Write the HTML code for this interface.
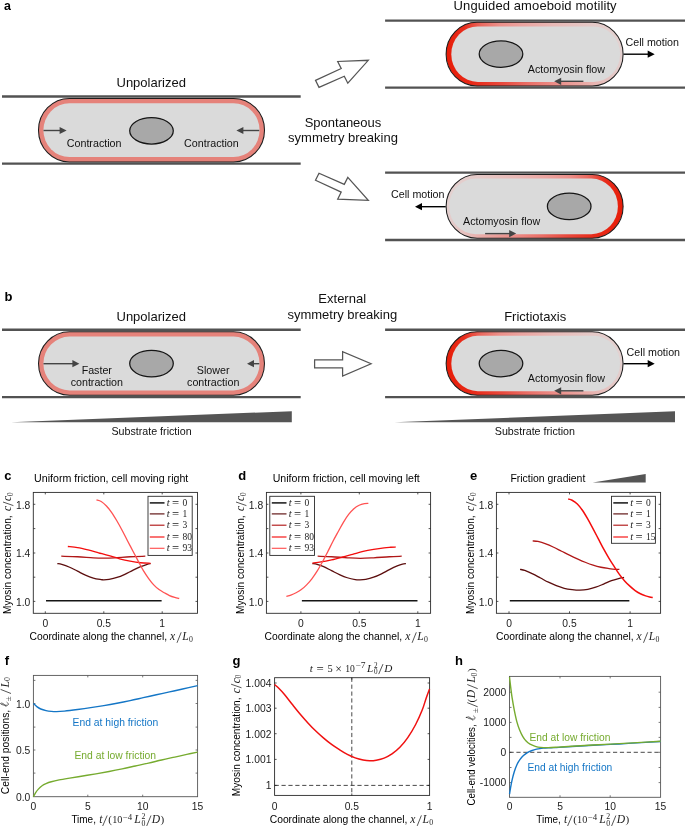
<!DOCTYPE html>
<html><head><meta charset="utf-8"><title>figure</title>
<style>html,body{margin:0;padding:0;background:#fff;}svg{display:block;will-change:transform;}text{font-family:"Liberation Sans", sans-serif;} .m{font-family:"Liberation Serif", serif;font-style:italic;} .r{font-family:"Liberation Serif", serif;}</style></head><body>
<svg width="685" height="827" viewBox="0 0 685 827">
<rect width="685" height="827" fill="#fff"/>
<text x="3.9" y="9.6" font-size="12.4" text-anchor="start" fill="#000" font-weight="bold" >a</text>
<line x1="2" y1="96.5" x2="300.7" y2="96.5" stroke="#525252" stroke-width="2.4"/>
<line x1="2" y1="163.6" x2="300.7" y2="163.6" stroke="#525252" stroke-width="2.4"/>
<path d="M69.5,98.4 H233.5 A31,31.799999999999997 0 0 1 233.5,162.0 H69.5 A31,31.799999999999997 0 0 1 69.5,98.4 Z" fill="#e5827a"/>
<path d="M69.5,103.30000000000001 H233.50000000000003 A26.1,26.89999999999999 0 0 1 233.50000000000003,157.1 H69.5 A26.1,26.89999999999999 0 0 1 69.5,103.30000000000001 Z" fill="#dadada"/>
<path d="M69.5,98.4 H233.5 A31,31.799999999999997 0 0 1 233.5,162.0 H69.5 A31,31.799999999999997 0 0 1 69.5,98.4 Z" fill="none" stroke="#1e1e1e" stroke-width="1.05"/>
<ellipse cx="151.5" cy="130.8" rx="21.8" ry="13.2" fill="#a8a8a8" stroke="#151515" stroke-width="1.25"/>
<line x1="43.5" y1="130.5" x2="60.99999999999999" y2="130.5" stroke="#444" stroke-width="1.4"/>
<polygon points="66.6,130.5 59.599999999999994,126.9 59.599999999999994,134.1" fill="#444"/>
<line x1="259.3" y1="130.5" x2="242.0" y2="130.5" stroke="#444" stroke-width="1.4"/>
<polygon points="236.4,130.5 243.4,126.9 243.4,134.1" fill="#444"/>
<text x="66.8" y="147" font-size="10.7" text-anchor="start" fill="#111" font-weight="normal" >Contraction</text>
<text x="184.1" y="147" font-size="10.7" text-anchor="start" fill="#111" font-weight="normal" >Contraction</text>
<text x="151.2" y="87" font-size="13" text-anchor="middle" fill="#111" font-weight="normal" >Unpolarized</text>
<polygon points="315.5,80.4 341.2,68.5 337.7,61.5 368.3,60.3 347.8,83.2 344.3,76.2 319.0,87.4" fill="#fff" stroke="#555" stroke-width="1.25" stroke-linejoin="miter"/>
<polygon points="315.5,180.2 341.2,192.1 337.7,199.1 368.3,200.3 347.8,177.4 344.3,184.4 319.0,173.2" fill="#fff" stroke="#555" stroke-width="1.25" stroke-linejoin="miter"/>
<text x="343" y="126.9" font-size="13" text-anchor="middle" fill="#111" font-weight="normal" >Spontaneous</text>
<text x="343" y="142.3" font-size="13" text-anchor="middle" fill="#111" font-weight="normal" >symmetry breaking</text>
<line x1="385.1" y1="20.6" x2="686" y2="20.6" stroke="#525252" stroke-width="2.4"/>
<line x1="385.1" y1="87.6" x2="686" y2="87.6" stroke="#525252" stroke-width="2.4"/>
<defs><linearGradient id="gta2" gradientUnits="userSpaceOnUse" x1="446.1" y1="0" x2="623.1" y2="0"><stop offset="0" stop-color="#e71d08"/><stop offset="0.10" stop-color="#e82c1b"/><stop offset="0.20" stop-color="#ea6a60"/><stop offset="0.30" stop-color="#ec8f89"/><stop offset="0.42" stop-color="#eba39f"/><stop offset="0.60" stop-color="#e9b9b6"/><stop offset="0.80" stop-color="#e5c8c6"/><stop offset="1" stop-color="#e3d2d1"/></linearGradient><linearGradient id="gba2" gradientUnits="userSpaceOnUse" x1="446.1" y1="0" x2="623.1" y2="0"><stop offset="0" stop-color="#e71d08"/><stop offset="0.17" stop-color="#e82c1b"/><stop offset="0.32" stop-color="#e84a3e"/><stop offset="0.46" stop-color="#ea6e66"/><stop offset="0.62" stop-color="#eb8e89"/><stop offset="0.78" stop-color="#e9a8a4"/><stop offset="0.90" stop-color="#e6c1bf"/><stop offset="1" stop-color="#e3d0cf"/></linearGradient><clipPath id="cta2"><rect x="444.1" y="20.3" width="181.0" height="33.849999999999994"/></clipPath><clipPath id="cba2"><rect x="444.1" y="54.15" width="181.0" height="33.85"/></clipPath><filter id="bla2" x="-5%" y="-10%" width="110%" height="120%"><feGaussianBlur stdDeviation="0.7"/></filter></defs>
<path d="M477.1,22.3 H592.1 A31,31.85 0 0 1 592.1,86.0 H477.1 A31,31.85 0 0 1 477.1,22.3 Z" fill="url(#gba2)"/>
<path d="M477.1,22.3 H592.1 A31,31.85 0 0 1 592.1,86.0 H477.1 A31,31.85 0 0 1 477.1,22.3 Z" fill="url(#gta2)" clip-path="url(#cta2)"/>
<path d="M477.8,26.4 H593.6 A26.5,27.750000000000004 0 0 1 593.6,81.9 H477.8 A26.5,27.750000000000004 0 0 1 477.8,26.4 Z" fill="#dadada" filter="url(#bla2)"/>
<path d="M477.1,22.3 H592.1 A31,31.85 0 0 1 592.1,86.0 H477.1 A31,31.85 0 0 1 477.1,22.3 Z" fill="none" stroke="#1e1e1e" stroke-width="1.05"/>
<ellipse cx="501" cy="54.1" rx="21.8" ry="13.2" fill="#a8a8a8" stroke="#151515" stroke-width="1.25"/>
<text x="453.6" y="9.8" font-size="13" text-anchor="start" fill="#111" font-weight="normal" textLength="163">Unguided amoeboid motility</text>
<line x1="623.5" y1="54.2" x2="649.1" y2="54.2" stroke="#000" stroke-width="1.4"/>
<polygon points="654.7,54.2 647.7,50.6 647.7,57.800000000000004" fill="#000"/>
<text x="625.5" y="46.3" font-size="10.7" text-anchor="start" fill="#111" font-weight="normal" >Cell motion</text>
<text x="527.8" y="72.9" font-size="10.7" text-anchor="start" fill="#111" font-weight="normal" >Actomyosin flow</text>
<line x1="583.4" y1="81.3" x2="559.8000000000001" y2="81.3" stroke="#444" stroke-width="1.4"/>
<polygon points="554.2,81.3 561.2,77.7 561.2,84.89999999999999" fill="#444"/>
<line x1="385.1" y1="172.6" x2="686" y2="172.6" stroke="#525252" stroke-width="2.4"/>
<line x1="385.1" y1="240.0" x2="686" y2="240.0" stroke="#525252" stroke-width="2.4"/>
<defs><linearGradient id="gta3" gradientUnits="userSpaceOnUse" x1="623.1" y1="0" x2="446.1" y2="0"><stop offset="0" stop-color="#e71d08"/><stop offset="0.10" stop-color="#e82c1b"/><stop offset="0.20" stop-color="#ea6a60"/><stop offset="0.30" stop-color="#ec8f89"/><stop offset="0.42" stop-color="#eba39f"/><stop offset="0.60" stop-color="#e9b9b6"/><stop offset="0.80" stop-color="#e5c8c6"/><stop offset="1" stop-color="#e3d2d1"/></linearGradient><linearGradient id="gba3" gradientUnits="userSpaceOnUse" x1="623.1" y1="0" x2="446.1" y2="0"><stop offset="0" stop-color="#e71d08"/><stop offset="0.17" stop-color="#e82c1b"/><stop offset="0.32" stop-color="#e84a3e"/><stop offset="0.46" stop-color="#ea6e66"/><stop offset="0.62" stop-color="#eb8e89"/><stop offset="0.78" stop-color="#e9a8a4"/><stop offset="0.90" stop-color="#e6c1bf"/><stop offset="1" stop-color="#e3d0cf"/></linearGradient><clipPath id="cta3"><rect x="444.1" y="172.5" width="181.0" height="33.900000000000006"/></clipPath><clipPath id="cba3"><rect x="444.1" y="206.4" width="181.0" height="33.900000000000006"/></clipPath><filter id="bla3" x="-5%" y="-10%" width="110%" height="120%"><feGaussianBlur stdDeviation="0.7"/></filter></defs>
<path d="M477.1,174.5 H592.1 A31,31.900000000000006 0 0 1 592.1,238.3 H477.1 A31,31.900000000000006 0 0 1 477.1,174.5 Z" fill="url(#gba3)"/>
<path d="M477.1,174.5 H592.1 A31,31.900000000000006 0 0 1 592.1,238.3 H477.1 A31,31.900000000000006 0 0 1 477.1,174.5 Z" fill="url(#gta3)" clip-path="url(#cta3)"/>
<path d="M475.6,178.6 H591.4 A26.5,27.80000000000001 0 0 1 591.4,234.20000000000002 H475.6 A26.5,27.80000000000001 0 0 1 475.6,178.6 Z" fill="#dadada" filter="url(#bla3)"/>
<path d="M477.1,174.5 H592.1 A31,31.900000000000006 0 0 1 592.1,238.3 H477.1 A31,31.900000000000006 0 0 1 477.1,174.5 Z" fill="none" stroke="#1e1e1e" stroke-width="1.05"/>
<ellipse cx="569.2" cy="206.4" rx="21.8" ry="13.2" fill="#a8a8a8" stroke="#151515" stroke-width="1.25"/>
<line x1="445.7" y1="206.7" x2="420.6" y2="206.7" stroke="#000" stroke-width="1.4"/>
<polygon points="415,206.7 422,203.1 422,210.29999999999998" fill="#000"/>
<text x="391" y="198.1" font-size="10.7" text-anchor="start" fill="#111" font-weight="normal" >Cell motion</text>
<text x="463" y="225.4" font-size="10.7" text-anchor="start" fill="#111" font-weight="normal" >Actomyosin flow</text>
<line x1="485.1" y1="233.6" x2="510.6" y2="233.6" stroke="#444" stroke-width="1.4"/>
<polygon points="516.2,233.6 509.20000000000005,230.0 509.20000000000005,237.2" fill="#444"/>
<text x="4.5" y="301.4" font-size="13" text-anchor="start" fill="#000" font-weight="bold" >b</text>
<line x1="2" y1="329.8" x2="300.7" y2="329.8" stroke="#525252" stroke-width="2.4"/>
<line x1="2" y1="397.1" x2="300.7" y2="397.1" stroke="#525252" stroke-width="2.4"/>
<path d="M69.5,331.7 H233.5 A31,31.80000000000001 0 0 1 233.5,395.3 H69.5 A31,31.80000000000001 0 0 1 69.5,331.7 Z" fill="#e5827a"/>
<path d="M69.5,336.59999999999997 H233.50000000000003 A26.1,26.900000000000034 0 0 1 233.50000000000003,390.40000000000003 H69.5 A26.1,26.900000000000034 0 0 1 69.5,336.59999999999997 Z" fill="#dadada"/>
<path d="M69.5,331.7 H233.5 A31,31.80000000000001 0 0 1 233.5,395.3 H69.5 A31,31.80000000000001 0 0 1 69.5,331.7 Z" fill="none" stroke="#1e1e1e" stroke-width="1.05"/>
<ellipse cx="151.5" cy="363.6" rx="21.8" ry="13.2" fill="#a8a8a8" stroke="#151515" stroke-width="1.25"/>
<text x="151.2" y="320.5" font-size="13" text-anchor="middle" fill="#111" font-weight="normal" >Unpolarized</text>
<line x1="43.5" y1="363.7" x2="73.80000000000001" y2="363.7" stroke="#444" stroke-width="1.4"/>
<polygon points="79.4,363.7 72.4,360.09999999999997 72.4,367.3" fill="#444"/>
<line x1="259.3" y1="363.7" x2="252.6" y2="363.7" stroke="#444" stroke-width="1.4"/>
<polygon points="247,363.7 254,360.09999999999997 254,367.3" fill="#444"/>
<text x="96.8" y="373.8" font-size="10.7" text-anchor="middle" fill="#111" font-weight="normal" >Faster</text>
<text x="96.8" y="386.2" font-size="10.7" text-anchor="middle" fill="#111" font-weight="normal" >contraction</text>
<text x="213.2" y="373.8" font-size="10.7" text-anchor="middle" fill="#111" font-weight="normal" >Slower</text>
<text x="213.2" y="386.2" font-size="10.7" text-anchor="middle" fill="#111" font-weight="normal" >contraction</text>
<polygon points="11,422.2 291.8,411.2 291.8,422.2" fill="#555"/>
<text x="151.5" y="434.5" font-size="10.7" text-anchor="middle" fill="#111" font-weight="normal" >Substrate friction</text>
<text x="342.2" y="303.2" font-size="13" text-anchor="middle" fill="#111" font-weight="normal" >External</text>
<text x="342.3" y="318.9" font-size="13" text-anchor="middle" fill="#111" font-weight="normal" >symmetry breaking</text>
<polygon points="314.6,359.8 342.6,359.8 342.6,351.6 371.1,363.8 342.6,376.1 342.6,367.9 314.6,367.9" fill="#fff" stroke="#555" stroke-width="1.25" stroke-linejoin="miter"/>
<line x1="385.1" y1="329.8" x2="686" y2="329.8" stroke="#525252" stroke-width="2.4"/>
<line x1="385.1" y1="397.1" x2="686" y2="397.1" stroke="#525252" stroke-width="2.4"/>
<defs><linearGradient id="gtb2" gradientUnits="userSpaceOnUse" x1="446.1" y1="0" x2="623.1" y2="0"><stop offset="0" stop-color="#e71d08"/><stop offset="0.10" stop-color="#e82c1b"/><stop offset="0.20" stop-color="#ea6a60"/><stop offset="0.30" stop-color="#ec8f89"/><stop offset="0.42" stop-color="#eba39f"/><stop offset="0.60" stop-color="#e9b9b6"/><stop offset="0.80" stop-color="#e5c8c6"/><stop offset="1" stop-color="#e3d2d1"/></linearGradient><linearGradient id="gbb2" gradientUnits="userSpaceOnUse" x1="446.1" y1="0" x2="623.1" y2="0"><stop offset="0" stop-color="#e71d08"/><stop offset="0.17" stop-color="#e82c1b"/><stop offset="0.32" stop-color="#e84a3e"/><stop offset="0.46" stop-color="#ea6e66"/><stop offset="0.62" stop-color="#eb8e89"/><stop offset="0.78" stop-color="#e9a8a4"/><stop offset="0.90" stop-color="#e6c1bf"/><stop offset="1" stop-color="#e3d0cf"/></linearGradient><clipPath id="ctb2"><rect x="444.1" y="329.7" width="181.0" height="33.80000000000001"/></clipPath><clipPath id="cbb2"><rect x="444.1" y="363.5" width="181.0" height="33.80000000000001"/></clipPath><filter id="blb2" x="-5%" y="-10%" width="110%" height="120%"><feGaussianBlur stdDeviation="0.7"/></filter></defs>
<path d="M477.1,331.7 H592.1 A31,31.80000000000001 0 0 1 592.1,395.3 H477.1 A31,31.80000000000001 0 0 1 477.1,331.7 Z" fill="url(#gbb2)"/>
<path d="M477.1,331.7 H592.1 A31,31.80000000000001 0 0 1 592.1,395.3 H477.1 A31,31.80000000000001 0 0 1 477.1,331.7 Z" fill="url(#gtb2)" clip-path="url(#ctb2)"/>
<path d="M477.8,335.8 H593.6 A26.5,27.69999999999999 0 0 1 593.6,391.2 H477.8 A26.5,27.69999999999999 0 0 1 477.8,335.8 Z" fill="#dadada" filter="url(#blb2)"/>
<path d="M477.1,331.7 H592.1 A31,31.80000000000001 0 0 1 592.1,395.3 H477.1 A31,31.80000000000001 0 0 1 477.1,331.7 Z" fill="none" stroke="#1e1e1e" stroke-width="1.05"/>
<ellipse cx="501" cy="363.6" rx="21.8" ry="13.2" fill="#a8a8a8" stroke="#151515" stroke-width="1.25"/>
<text x="535.2" y="320.5" font-size="13" text-anchor="middle" fill="#111" font-weight="normal" >Frictiotaxis</text>
<line x1="623.5" y1="363.7" x2="649.1" y2="363.7" stroke="#000" stroke-width="1.4"/>
<polygon points="654.7,363.7 647.7,360.09999999999997 647.7,367.3" fill="#000"/>
<text x="626.6" y="355.6" font-size="10.7" text-anchor="start" fill="#111" font-weight="normal" >Cell motion</text>
<text x="527.8" y="382.4" font-size="10.7" text-anchor="start" fill="#111" font-weight="normal" >Actomyosin flow</text>
<line x1="583.4" y1="390.8" x2="559.8000000000001" y2="390.8" stroke="#444" stroke-width="1.4"/>
<polygon points="554.2,390.8 561.2,387.2 561.2,394.40000000000003" fill="#444"/>
<polygon points="394.5,422.2 675,411.2 675,422.2" fill="#555"/>
<text x="534.9" y="434.5" font-size="10.7" text-anchor="middle" fill="#111" font-weight="normal" >Substrate friction</text>
<rect x="33.3" y="492.4" width="164.2" height="120.89999999999998" fill="none" stroke="#2a2a2a" stroke-width="0.9"/>
<path d="M45.3,613.3 v-2.0 M45.3,492.4 v2.0 M103.8,613.3 v-2.0 M103.8,492.4 v2.0 M162.2,613.3 v-2.0 M162.2,492.4 v2.0 M33.3,504.3 h2.0 M197.5,504.3 h-2.0 M33.3,528.6 h2.0 M197.5,528.6 h-2.0 M33.3,553.0 h2.0 M197.5,553.0 h-2.0 M33.3,577.2 h2.0 M197.5,577.2 h-2.0 M33.3,601.4 h2.0 M197.5,601.4 h-2.0" stroke="#2a2a2a" stroke-width="0.8" fill="none"/>
<text x="4.2" y="480.1" font-size="13" text-anchor="start" fill="#000" font-weight="bold" >c</text>
<text x="34.1" y="481.8" font-size="10.7" text-anchor="start" fill="#000" font-weight="normal" textLength="154.2" lengthAdjust="spacingAndGlyphs">Uniform friction, cell moving right</text>
<text x="30.3" y="508.6" font-size="10.3" text-anchor="end" fill="#1a1a1a" font-weight="normal" >1.8</text>
<text x="30.3" y="557.3" font-size="10.3" text-anchor="end" fill="#1a1a1a" font-weight="normal" >1.4</text>
<text x="30.3" y="605.6999999999999" font-size="10.3" text-anchor="end" fill="#1a1a1a" font-weight="normal" >1.0</text>
<text x="45.3" y="626.9" font-size="10.3" text-anchor="middle" fill="#1a1a1a" font-weight="normal" >0</text>
<text x="103.8" y="626.9" font-size="10.3" text-anchor="middle" fill="#1a1a1a" font-weight="normal" >0.5</text>
<text x="162.2" y="626.9" font-size="10.3" text-anchor="middle" fill="#1a1a1a" font-weight="normal" >1</text>
<g transform="translate(11.4,614.0) rotate(-90)">
<text x="0" y="0" font-size="10.3" fill="#000" textLength="98.7" lengthAdjust="spacingAndGlyphs">Myosin concentration,</text>
<text x="103.0" y="0" font-size="11.6" fill="#1c1c1c" class="m">c</text>
<line x1="108.4" y1="2.0" x2="112.0" y2="-8.4" stroke="#1c1c1c" stroke-width="0.75"/>
<text x="113.0" y="0" font-size="11.6" fill="#1c1c1c" class="m">c</text>
<text x="117.8" y="1.4" font-size="7.8" fill="#1c1c1c" class="r">0</text>
</g>
<g transform="translate(29.5,640.1)">
<text x="0" y="0" font-size="10.2" fill="#000" textLength="137.6" lengthAdjust="spacingAndGlyphs">Coordinate along the channel,</text>
<text x="140.6" y="0" font-size="11.6" fill="#1c1c1c" class="m">x</text>
<line x1="147.5" y1="2.7" x2="151.7" y2="-7.8" stroke="#1c1c1c" stroke-width="0.75"/>
<text x="152.7" y="0" font-size="11.6" fill="#1c1c1c" class="m">L</text>
<text x="159.5" y="1.6" font-size="7.8" fill="#1c1c1c" class="r">0</text>
</g>
<path d="M46.02,600.87 C65.29,600.87 142.36,600.87 161.63,600.87" fill="none" stroke="#151515" stroke-width="1.5" stroke-linecap="butt" stroke-linejoin="round" />
<path d="M57.32,563.56 C58.06,563.69 59.73,563.74 61.78,564.35 C63.84,564.96 67.04,566.10 69.67,567.24 C72.29,568.38 74.92,569.87 77.55,571.18 C80.18,572.49 82.80,573.98 85.43,575.12 C88.06,576.26 90.69,577.27 93.31,578.01 C95.94,578.76 99.44,579.28 101.20,579.59 C102.95,579.89 102.51,579.89 103.82,579.85 C105.14,579.81 106.89,579.72 109.08,579.32 C111.27,578.93 114.33,578.32 116.96,577.49 C119.59,576.65 122.21,575.51 124.84,574.33 C127.47,573.15 130.10,571.66 132.72,570.39 C135.35,569.12 138.20,567.72 140.61,566.71 C143.02,565.71 145.51,564.87 147.18,564.35 C148.84,563.82 150.02,563.69 150.59,563.56" fill="none" stroke="#5c0e0e" stroke-width="1.3" stroke-linecap="butt" stroke-linejoin="round" />
<path d="M61.26,556.20 C63.97,556.29 72.21,556.47 77.55,556.73 C82.89,556.99 88.93,557.56 93.31,557.78 C97.69,558.00 100.32,558.04 103.82,558.04 C107.33,558.04 109.95,558.00 114.33,557.78 C118.71,557.56 124.93,556.99 130.10,556.73 C135.26,556.47 142.80,556.29 145.34,556.20" fill="none" stroke="#b01818" stroke-width="1.3" stroke-linecap="butt" stroke-linejoin="round" />
<path d="M67.83,546.48 C69.45,546.66 74.18,546.96 77.55,547.53 C80.92,548.10 84.56,549.02 88.06,549.90 C91.56,550.77 95.06,551.82 98.57,552.79 C102.07,553.75 105.57,554.67 109.08,555.68 C112.58,556.69 116.08,557.91 119.59,558.83 C123.09,559.75 126.59,560.54 130.10,561.20 C133.60,561.85 137.19,562.42 140.61,562.77 C144.02,563.12 148.93,563.21 150.59,563.30" fill="none" stroke="#f40d0d" stroke-width="1.3" stroke-linecap="butt" stroke-linejoin="round" />
<path d="M96.47,499.98 C97.25,500.24 99.53,500.55 101.20,501.55 C102.86,502.56 104.70,504.18 106.45,506.02 C108.20,507.86 109.95,510.09 111.71,512.59 C113.46,515.08 115.21,518.02 116.96,521.00 C118.71,523.97 120.46,527.17 122.21,530.45 C123.97,533.74 125.72,537.33 127.47,540.70 C129.22,544.07 130.97,547.36 132.72,550.69 C134.48,554.01 136.23,557.39 137.98,560.67 C139.73,563.95 141.48,567.46 143.23,570.39 C144.99,573.33 146.74,575.87 148.49,578.27 C150.24,580.68 151.99,582.96 153.74,584.84 C155.50,586.73 157.25,588.26 159.00,589.57 C160.75,590.89 162.50,591.72 164.25,592.72 C166.01,593.73 167.76,594.83 169.51,595.61 C171.26,596.40 173.14,596.97 174.76,597.45 C176.38,597.94 178.49,598.33 179.23,598.50" fill="none" stroke="#ff5252" stroke-width="1.3" stroke-linecap="butt" stroke-linejoin="round" />
<rect x="148.0" y="496.3" width="44.19999999999999" height="59.099999999999966" fill="#fff" stroke="#2a2a2a" stroke-width="0.9"/>
<line x1="149.8" y1="502.9" x2="164.5" y2="502.9" stroke="#151515" stroke-width="1.5"/>
<text y="505.79999999999995" fill="#1c1c1c"><tspan x="166.8" class="m" font-size="10.6">t</tspan><tspan x="172.10000000000002" y="506.49999999999994" class="r" font-size="12.6">=</tspan><tspan x="182.5" y="505.79999999999995" class="r" font-size="9.5">0</tspan></text>
<line x1="149.8" y1="513.9" x2="164.5" y2="513.9" stroke="#5c0e0e" stroke-width="1.15"/>
<text y="516.8" fill="#1c1c1c"><tspan x="166.8" class="m" font-size="10.6">t</tspan><tspan x="172.10000000000002" y="517.5" class="r" font-size="12.6">=</tspan><tspan x="182.5" y="516.8" class="r" font-size="9.5">1</tspan></text>
<line x1="149.8" y1="525.2" x2="164.5" y2="525.2" stroke="#b01818" stroke-width="1.15"/>
<text y="528.1" fill="#1c1c1c"><tspan x="166.8" class="m" font-size="10.6">t</tspan><tspan x="172.10000000000002" y="528.8000000000001" class="r" font-size="12.6">=</tspan><tspan x="182.5" y="528.1" class="r" font-size="9.5">3</tspan></text>
<line x1="149.8" y1="537.0" x2="164.5" y2="537.0" stroke="#f40d0d" stroke-width="1.15"/>
<text y="539.9" fill="#1c1c1c"><tspan x="166.8" class="m" font-size="10.6">t</tspan><tspan x="172.10000000000002" y="540.6" class="r" font-size="12.6">=</tspan><tspan x="182.5" y="539.9" class="r" font-size="9.5">80</tspan></text>
<line x1="149.8" y1="548.3" x2="164.5" y2="548.3" stroke="#ff5252" stroke-width="1.15"/>
<text y="551.1999999999999" fill="#1c1c1c"><tspan x="166.8" class="m" font-size="10.6">t</tspan><tspan x="172.10000000000002" y="551.9" class="r" font-size="12.6">=</tspan><tspan x="182.5" y="551.1999999999999" class="r" font-size="9.5">93</tspan></text>
<rect x="266.4" y="492.4" width="164.20000000000005" height="120.89999999999998" fill="none" stroke="#2a2a2a" stroke-width="0.9"/>
<path d="M300.9,613.3 v-2.0 M300.9,492.4 v2.0 M359.3,613.3 v-2.0 M359.3,492.4 v2.0 M417.8,613.3 v-2.0 M417.8,492.4 v2.0 M266.4,504.3 h2.0 M430.6,504.3 h-2.0 M266.4,528.6 h2.0 M430.6,528.6 h-2.0 M266.4,553.0 h2.0 M430.6,553.0 h-2.0 M266.4,577.2 h2.0 M430.6,577.2 h-2.0 M266.4,601.4 h2.0 M430.6,601.4 h-2.0" stroke="#2a2a2a" stroke-width="0.8" fill="none"/>
<text x="238.2" y="479.8" font-size="13" text-anchor="start" fill="#000" font-weight="bold" >d</text>
<text x="272.7" y="481.8" font-size="10.7" text-anchor="start" fill="#000" font-weight="normal" textLength="147.1" lengthAdjust="spacingAndGlyphs">Uniform friction, cell moving left</text>
<text x="263.2" y="508.6" font-size="10.3" text-anchor="end" fill="#1a1a1a" font-weight="normal" >1.8</text>
<text x="263.2" y="557.3" font-size="10.3" text-anchor="end" fill="#1a1a1a" font-weight="normal" >1.4</text>
<text x="263.2" y="605.6999999999999" font-size="10.3" text-anchor="end" fill="#1a1a1a" font-weight="normal" >1.0</text>
<text x="300.9" y="626.9" font-size="10.3" text-anchor="middle" fill="#1a1a1a" font-weight="normal" >0</text>
<text x="359.3" y="626.9" font-size="10.3" text-anchor="middle" fill="#1a1a1a" font-weight="normal" >0.5</text>
<text x="417.8" y="626.9" font-size="10.3" text-anchor="middle" fill="#1a1a1a" font-weight="normal" >1</text>
<g transform="translate(244.4,614.0) rotate(-90)">
<text x="0" y="0" font-size="10.3" fill="#000" textLength="98.7" lengthAdjust="spacingAndGlyphs">Myosin concentration,</text>
<text x="103.0" y="0" font-size="11.6" fill="#1c1c1c" class="m">c</text>
<line x1="108.4" y1="2.0" x2="112.0" y2="-8.4" stroke="#1c1c1c" stroke-width="0.75"/>
<text x="113.0" y="0" font-size="11.6" fill="#1c1c1c" class="m">c</text>
<text x="117.8" y="1.4" font-size="7.8" fill="#1c1c1c" class="r">0</text>
</g>
<g transform="translate(264.6,640.1)">
<text x="0" y="0" font-size="10.2" fill="#000" textLength="137.6" lengthAdjust="spacingAndGlyphs">Coordinate along the channel,</text>
<text x="140.6" y="0" font-size="11.6" fill="#1c1c1c" class="m">x</text>
<line x1="147.5" y1="2.7" x2="151.7" y2="-7.8" stroke="#1c1c1c" stroke-width="0.75"/>
<text x="152.7" y="0" font-size="11.6" fill="#1c1c1c" class="m">L</text>
<text x="159.5" y="1.6" font-size="7.8" fill="#1c1c1c" class="r">0</text>
</g>
<path d="M301.88,600.87 C321.15,600.87 398.22,600.87 417.49,600.87" fill="none" stroke="#151515" stroke-width="1.5" stroke-linecap="butt" stroke-linejoin="round" />
<path d="M312.39,563.56 C313.18,563.69 315.23,563.82 317.12,564.35 C319.00,564.87 321.28,565.66 323.69,566.71 C326.09,567.76 328.94,569.34 331.57,570.65 C334.20,571.97 336.82,573.41 339.45,574.60 C342.08,575.78 344.71,576.92 347.33,577.75 C349.96,578.58 353.11,579.24 355.21,579.59 C357.32,579.94 358.19,579.89 359.94,579.85 C361.70,579.81 363.45,579.76 365.72,579.32 C368.00,578.89 370.98,578.14 373.61,577.22 C376.23,576.30 378.86,575.08 381.49,573.81 C384.12,572.54 386.74,570.92 389.37,569.60 C392.00,568.29 395.06,566.84 397.25,565.92 C399.44,565.01 401.06,564.48 402.51,564.09 C403.95,563.69 405.36,563.65 405.92,563.56" fill="none" stroke="#5c0e0e" stroke-width="1.3" stroke-linecap="butt" stroke-linejoin="round" />
<path d="M317.64,556.20 C319.96,556.29 326.62,556.47 331.57,556.73 C336.52,556.99 342.52,557.52 347.33,557.78 C352.15,558.04 356.09,558.31 360.47,558.31 C364.85,558.31 368.79,558.04 373.61,557.78 C378.42,557.52 384.69,556.99 389.37,556.73 C394.06,556.47 399.66,556.29 401.72,556.20" fill="none" stroke="#b01818" stroke-width="1.3" stroke-linecap="butt" stroke-linejoin="round" />
<path d="M312.39,563.03 C313.83,562.86 317.86,562.51 321.06,561.98 C324.26,561.46 328.06,560.67 331.57,559.88 C335.07,559.09 338.57,558.17 342.08,557.25 C345.58,556.33 349.08,555.33 352.59,554.36 C356.09,553.40 359.59,552.31 363.10,551.47 C366.60,550.64 370.10,549.99 373.61,549.37 C377.11,548.76 381.27,548.15 384.12,547.80 C386.96,547.45 388.76,547.40 390.69,547.27 C392.61,547.14 394.85,547.05 395.68,547.01" fill="none" stroke="#f40d0d" stroke-width="1.3" stroke-linecap="butt" stroke-linejoin="round" />
<path d="M286.38,596.40 C287.12,596.18 289.22,595.70 290.84,595.09 C292.46,594.48 294.35,593.64 296.10,592.72 C297.85,591.81 299.60,590.89 301.35,589.57 C303.10,588.26 304.86,586.64 306.61,584.84 C308.36,583.05 310.11,581.08 311.86,578.80 C313.61,576.52 315.37,573.98 317.12,571.18 C318.87,568.38 320.62,565.18 322.37,561.98 C324.12,558.79 325.88,555.42 327.63,552.00 C329.38,548.58 331.13,544.86 332.88,541.49 C334.63,538.12 336.39,534.96 338.14,531.77 C339.89,528.57 341.64,525.20 343.39,522.31 C345.14,519.42 346.89,516.70 348.65,514.43 C350.40,512.15 352.15,510.18 353.90,508.65 C355.65,507.11 357.40,506.06 359.16,505.23 C360.91,504.40 362.88,503.96 364.41,503.65 C365.94,503.35 367.70,503.44 368.35,503.39" fill="none" stroke="#ff5252" stroke-width="1.3" stroke-linecap="butt" stroke-linejoin="round" />
<rect x="269.8" y="496.3" width="44.69999999999999" height="59.099999999999966" fill="#fff" stroke="#2a2a2a" stroke-width="0.9"/>
<line x1="271.8" y1="502.9" x2="286.5" y2="502.9" stroke="#151515" stroke-width="1.5"/>
<text y="505.79999999999995" fill="#1c1c1c"><tspan x="288.8" class="m" font-size="10.6">t</tspan><tspan x="294.1" y="506.49999999999994" class="r" font-size="12.6">=</tspan><tspan x="304.5" y="505.79999999999995" class="r" font-size="9.5">0</tspan></text>
<line x1="271.8" y1="513.9" x2="286.5" y2="513.9" stroke="#5c0e0e" stroke-width="1.15"/>
<text y="516.8" fill="#1c1c1c"><tspan x="288.8" class="m" font-size="10.6">t</tspan><tspan x="294.1" y="517.5" class="r" font-size="12.6">=</tspan><tspan x="304.5" y="516.8" class="r" font-size="9.5">1</tspan></text>
<line x1="271.8" y1="525.2" x2="286.5" y2="525.2" stroke="#b01818" stroke-width="1.15"/>
<text y="528.1" fill="#1c1c1c"><tspan x="288.8" class="m" font-size="10.6">t</tspan><tspan x="294.1" y="528.8000000000001" class="r" font-size="12.6">=</tspan><tspan x="304.5" y="528.1" class="r" font-size="9.5">3</tspan></text>
<line x1="271.8" y1="537.0" x2="286.5" y2="537.0" stroke="#f40d0d" stroke-width="1.15"/>
<text y="539.9" fill="#1c1c1c"><tspan x="288.8" class="m" font-size="10.6">t</tspan><tspan x="294.1" y="540.6" class="r" font-size="12.6">=</tspan><tspan x="304.5" y="539.9" class="r" font-size="9.5">80</tspan></text>
<line x1="271.8" y1="548.3" x2="286.5" y2="548.3" stroke="#ff5252" stroke-width="1.15"/>
<text y="551.1999999999999" fill="#1c1c1c"><tspan x="288.8" class="m" font-size="10.6">t</tspan><tspan x="294.1" y="551.9" class="r" font-size="12.6">=</tspan><tspan x="304.5" y="551.1999999999999" class="r" font-size="9.5">93</tspan></text>
<rect x="496.4" y="492.4" width="164.20000000000005" height="120.89999999999998" fill="none" stroke="#2a2a2a" stroke-width="0.9"/>
<path d="M509.0,613.3 v-2.0 M509.0,492.4 v2.0 M569.5,613.3 v-2.0 M569.5,492.4 v2.0 M630.1,613.3 v-2.0 M630.1,492.4 v2.0 M496.4,504.3 h2.0 M660.6,504.3 h-2.0 M496.4,528.6 h2.0 M660.6,528.6 h-2.0 M496.4,553.0 h2.0 M660.6,553.0 h-2.0 M496.4,577.2 h2.0 M660.6,577.2 h-2.0 M496.4,601.4 h2.0 M660.6,601.4 h-2.0" stroke="#2a2a2a" stroke-width="0.8" fill="none"/>
<text x="470.1" y="480.1" font-size="13" text-anchor="start" fill="#000" font-weight="bold" >e</text>
<text x="510.4" y="481.8" font-size="10.7" text-anchor="start" fill="#000" font-weight="normal" textLength="74.9" lengthAdjust="spacingAndGlyphs">Friction gradient</text>
<polygon points="592.7,482.6 645.7,474.1 645.7,482.6" fill="#555"/>
<text x="493.2" y="508.6" font-size="10.3" text-anchor="end" fill="#1a1a1a" font-weight="normal" >1.8</text>
<text x="493.2" y="557.3" font-size="10.3" text-anchor="end" fill="#1a1a1a" font-weight="normal" >1.4</text>
<text x="493.2" y="605.6999999999999" font-size="10.3" text-anchor="end" fill="#1a1a1a" font-weight="normal" >1.0</text>
<text x="509.0" y="626.9" font-size="10.3" text-anchor="middle" fill="#1a1a1a" font-weight="normal" >0</text>
<text x="569.5" y="626.9" font-size="10.3" text-anchor="middle" fill="#1a1a1a" font-weight="normal" >0.5</text>
<text x="630.1" y="626.9" font-size="10.3" text-anchor="middle" fill="#1a1a1a" font-weight="normal" >1</text>
<g transform="translate(474.4,614.0) rotate(-90)">
<text x="0" y="0" font-size="10.3" fill="#000" textLength="98.7" lengthAdjust="spacingAndGlyphs">Myosin concentration,</text>
<text x="103.0" y="0" font-size="11.6" fill="#1c1c1c" class="m">c</text>
<line x1="108.4" y1="2.0" x2="112.0" y2="-8.4" stroke="#1c1c1c" stroke-width="0.75"/>
<text x="113.0" y="0" font-size="11.6" fill="#1c1c1c" class="m">c</text>
<text x="117.8" y="1.4" font-size="7.8" fill="#1c1c1c" class="r">0</text>
</g>
<g transform="translate(496.0,640.1)">
<text x="0" y="0" font-size="10.2" fill="#000" textLength="137.6" lengthAdjust="spacingAndGlyphs">Coordinate along the channel,</text>
<text x="140.6" y="0" font-size="11.6" fill="#1c1c1c" class="m">x</text>
<line x1="147.5" y1="2.7" x2="151.7" y2="-7.8" stroke="#1c1c1c" stroke-width="0.75"/>
<text x="152.7" y="0" font-size="11.6" fill="#1c1c1c" class="m">L</text>
<text x="159.5" y="1.6" font-size="7.8" fill="#1c1c1c" class="r">0</text>
</g>
<path d="M509.81,600.87 C529.73,600.87 609.43,600.87 629.36,600.87" fill="none" stroke="#151515" stroke-width="1.5" stroke-linecap="butt" stroke-linejoin="round" />
<path d="M520.05,569.34 C520.84,569.52 522.68,569.65 524.78,570.39 C526.89,571.14 530.04,572.54 532.67,573.81 C535.29,575.08 537.92,576.61 540.55,578.01 C543.18,579.41 545.80,580.94 548.43,582.21 C551.06,583.48 553.69,584.62 556.31,585.63 C558.94,586.64 561.57,587.60 564.20,588.26 C566.82,588.91 569.45,589.27 572.08,589.57 C574.71,589.88 577.33,590.14 579.96,590.10 C582.59,590.05 585.21,589.79 587.84,589.31 C590.47,588.83 593.10,588.08 595.72,587.21 C598.35,586.33 600.98,585.15 603.61,584.05 C606.23,582.96 608.86,581.60 611.49,580.64 C614.12,579.68 617.27,578.80 619.37,578.27 C621.47,577.75 623.31,577.62 624.10,577.49" fill="none" stroke="#5c0e0e" stroke-width="1.3" stroke-linecap="butt" stroke-linejoin="round" />
<path d="M532.67,540.96 C533.54,541.05 535.73,541.01 537.92,541.49 C540.11,541.97 543.18,542.89 545.80,543.85 C548.43,544.82 551.06,546.04 553.69,547.27 C556.31,548.50 558.94,549.90 561.57,551.21 C564.20,552.52 566.82,553.88 569.45,555.15 C572.08,556.42 574.71,557.65 577.33,558.83 C579.96,560.01 582.59,561.20 585.21,562.25 C587.84,563.30 590.47,564.30 593.10,565.14 C595.72,565.97 598.35,566.67 600.98,567.24 C603.61,567.81 606.45,568.20 608.86,568.55 C611.27,568.90 613.68,569.21 615.43,569.34 C617.18,569.47 618.71,569.34 619.37,569.34" fill="none" stroke="#b01818" stroke-width="1.3" stroke-linecap="butt" stroke-linejoin="round" />
<path d="M568.14,498.93 C568.79,499.14 570.55,499.41 572.08,500.24 C573.61,501.07 575.58,502.21 577.33,503.92 C579.08,505.63 580.84,507.95 582.59,510.49 C584.34,513.03 586.09,516.09 587.84,519.16 C589.59,522.22 591.35,525.59 593.10,528.88 C594.85,532.16 596.60,535.53 598.35,538.86 C600.10,542.19 601.86,545.65 603.61,548.85 C605.36,552.04 607.11,555.11 608.86,558.04 C610.61,560.98 612.37,563.74 614.12,566.45 C615.87,569.17 617.62,571.92 619.37,574.33 C621.12,576.74 622.87,578.93 624.63,580.90 C626.38,582.87 628.13,584.54 629.88,586.16 C631.63,587.78 633.38,589.35 635.14,590.62 C636.89,591.89 638.64,592.90 640.39,593.78 C642.14,594.65 644.11,595.35 645.65,595.88 C647.18,596.40 648.40,596.67 649.59,596.93 C650.77,597.19 652.21,597.37 652.74,597.45" fill="none" stroke="#f40d0d" stroke-width="1.5" stroke-linecap="butt" stroke-linejoin="round" />
<rect x="611.5" y="496.3" width="43.89999999999998" height="46.99999999999994" fill="#fff" stroke="#2a2a2a" stroke-width="0.9"/>
<line x1="613.3" y1="502.9" x2="628.0" y2="502.9" stroke="#151515" stroke-width="1.5"/>
<text y="505.79999999999995" fill="#1c1c1c"><tspan x="630.3" class="m" font-size="10.6">t</tspan><tspan x="635.5999999999999" y="506.49999999999994" class="r" font-size="12.6">=</tspan><tspan x="646.0" y="505.79999999999995" class="r" font-size="9.5">0</tspan></text>
<line x1="613.3" y1="513.9" x2="628.0" y2="513.9" stroke="#5c0e0e" stroke-width="1.15"/>
<text y="516.8" fill="#1c1c1c"><tspan x="630.3" class="m" font-size="10.6">t</tspan><tspan x="635.5999999999999" y="517.5" class="r" font-size="12.6">=</tspan><tspan x="646.0" y="516.8" class="r" font-size="9.5">1</tspan></text>
<line x1="613.3" y1="525.2" x2="628.0" y2="525.2" stroke="#b01818" stroke-width="1.15"/>
<text y="528.1" fill="#1c1c1c"><tspan x="630.3" class="m" font-size="10.6">t</tspan><tspan x="635.5999999999999" y="528.8000000000001" class="r" font-size="12.6">=</tspan><tspan x="646.0" y="528.1" class="r" font-size="9.5">3</tspan></text>
<line x1="613.3" y1="537.0" x2="628.0" y2="537.0" stroke="#f40d0d" stroke-width="1.15"/>
<text y="539.9" fill="#1c1c1c"><tspan x="630.3" class="m" font-size="10.6">t</tspan><tspan x="635.5999999999999" y="540.6" class="r" font-size="12.6">=</tspan><tspan x="646.0" y="539.9" class="r" font-size="9.5">15</tspan></text>
<rect x="33.4" y="675.4" width="164.2" height="121.30000000000007" fill="none" stroke="#555555" stroke-width="0.9"/>
<path d="M87.8,796.7 v-2.0 M87.8,675.4 v2.0 M142.7,796.7 v-2.0 M142.7,675.4 v2.0 M33.4,680.4 h2.0 M197.6,680.4 h-2.0 M33.4,703.5 h2.0 M197.6,703.5 h-2.0 M33.4,727.1 h2.0 M197.6,727.1 h-2.0 M33.4,750.0 h2.0 M197.6,750.0 h-2.0 M33.4,773.1 h2.0 M197.6,773.1 h-2.0" stroke="#555555" stroke-width="0.8" fill="none"/>
<text x="4.8" y="664.9" font-size="13" text-anchor="start" fill="#000" font-weight="bold" >f</text>
<text x="30.3" y="707.8" font-size="10.3" text-anchor="end" fill="#1a1a1a" font-weight="normal" >1.0</text>
<text x="30.3" y="754.3" font-size="10.3" text-anchor="end" fill="#1a1a1a" font-weight="normal" >0.5</text>
<text x="30.3" y="801.1999999999999" font-size="10.3" text-anchor="end" fill="#1a1a1a" font-weight="normal" >0.0</text>
<text x="33.4" y="810.4" font-size="10.3" text-anchor="middle" fill="#1a1a1a" font-weight="normal" >0</text>
<text x="87.8" y="810.4" font-size="10.3" text-anchor="middle" fill="#1a1a1a" font-weight="normal" >5</text>
<text x="142.7" y="810.4" font-size="10.3" text-anchor="middle" fill="#1a1a1a" font-weight="normal" >10</text>
<text x="197.6" y="810.4" font-size="10.3" text-anchor="middle" fill="#1a1a1a" font-weight="normal" >15</text>
<g transform="translate(8.6,794.2) rotate(-90)">
<text x="0" y="0" font-size="10.3" fill="#000" textLength="84.4" lengthAdjust="spacingAndGlyphs">Cell-end positions,</text>
<path transform="translate(87.6,0)" d="M0.1,-2.6 C2.4,-3.8 4.3,-7.2 3.2,-8.0 C2.2,-8.6 1.2,-4.2 1.3,-1.6 C1.4,0.4 3.0,0.2 4.3,-1.6" fill="none" stroke="#1c1c1c" stroke-width="0.7" stroke-linecap="round"/>
<text x="93.0" y="2.6" font-size="8.8" fill="#1c1c1c" class="r">±</text>
<line x1="100.7" y1="2.4" x2="104.8" y2="-8.0" stroke="#1c1c1c" stroke-width="0.75"/>
<text x="106.6" y="0" font-size="11.6" fill="#1c1c1c" class="m">L</text>
<text x="113.2" y="1.6" font-size="7.8" fill="#1c1c1c" class="r">0</text>
</g>
<g transform="translate(71.4,823.3)">
<text x="0" y="0" font-size="10.2" fill="#000" textLength="24.5" lengthAdjust="spacingAndGlyphs">Time,</text>
<text x="27.8" y="0" font-size="11.6" fill="#1c1c1c" class="m">t</text>
<line x1="31.3" y1="2.7" x2="35.8" y2="-7.8" stroke="#1c1c1c" stroke-width="0.75"/>
<text x="36.9" y="0" font-size="11.2" fill="#1c1c1c" class="r">(</text>
<text x="40.8" y="0" font-size="10.2" fill="#1c1c1c" class="r">10</text>
<text x="51.4" y="-3.8" font-size="7.8" fill="#1c1c1c" class="r" textLength="9.4" lengthAdjust="spacingAndGlyphs">−4</text>
<text x="62.9" y="0" font-size="11.6" fill="#1c1c1c" class="m">L</text>
<text x="70.0" y="-4.2" font-size="7.8" fill="#1c1c1c" class="r">2</text>
<text x="70.0" y="2.4" font-size="7.8" fill="#1c1c1c" class="r">0</text>
<line x1="75.3" y1="2.7" x2="79.6" y2="-7.8" stroke="#1c1c1c" stroke-width="0.75"/>
<text x="80.4" y="0" font-size="11.6" fill="#1c1c1c" class="m">D</text>
<text x="89.2" y="0" font-size="11.2" fill="#1c1c1c" class="r">)</text>
</g>
<path d="M33.41,703.47 C33.98,704.00 35.60,705.70 36.82,706.62 C38.05,707.54 39.23,708.33 40.76,708.99 C42.30,709.64 44.27,710.17 46.02,710.56 C47.77,710.96 49.52,711.18 51.27,711.35 C53.03,711.53 54.34,711.66 56.53,711.62 C58.72,711.57 60.91,711.44 64.41,711.09 C67.91,710.74 73.17,710.08 77.55,709.51 C81.93,708.94 86.31,708.33 90.69,707.67 C95.06,707.02 99.44,706.32 103.82,705.57 C108.20,704.83 112.58,704.04 116.96,703.21 C121.34,702.38 125.72,701.50 130.10,700.58 C134.48,699.66 138.86,698.65 143.23,697.69 C147.61,696.73 151.99,695.76 156.37,694.80 C160.75,693.84 165.13,692.87 169.51,691.91 C173.89,690.95 177.96,690.07 182.65,689.02 C187.33,687.97 195.13,686.17 197.62,685.60" fill="none" stroke="#1476c6" stroke-width="1.4" stroke-linecap="butt" stroke-linejoin="round" />
<path d="M33.41,796.74 C33.76,796.09 34.72,794.03 35.51,792.80 C36.30,791.58 37.04,790.57 38.14,789.39 C39.23,788.20 40.76,786.67 42.08,785.71 C43.39,784.75 44.49,784.26 46.02,783.61 C47.55,782.95 49.08,782.38 51.27,781.77 C53.46,781.15 56.09,780.54 59.16,779.93 C62.22,779.32 65.73,778.75 69.67,778.09 C73.61,777.43 78.42,776.69 82.80,775.99 C87.18,775.29 91.56,774.63 95.94,773.89 C100.32,773.14 104.70,772.35 109.08,771.52 C113.46,770.69 117.84,769.81 122.21,768.89 C126.59,767.97 130.97,766.97 135.35,766.00 C139.73,765.04 144.11,764.12 148.49,763.11 C152.87,762.11 157.25,760.97 161.63,759.96 C166.01,758.95 170.38,758.03 174.76,757.07 C179.14,756.11 184.09,755.01 187.90,754.18 C191.71,753.35 196.00,752.43 197.62,752.08" fill="none" stroke="#76ab2f" stroke-width="1.4" stroke-linecap="butt" stroke-linejoin="round" />
<text x="72.6" y="726.3" font-size="10.2" text-anchor="start" fill="#1476c6" font-weight="normal" textLength="85.6" lengthAdjust="spacingAndGlyphs">End at high friction</text>
<text x="74.4" y="758.6" font-size="10.2" text-anchor="start" fill="#76ab2f" font-weight="normal" textLength="81.7" lengthAdjust="spacingAndGlyphs">End at low friction</text>
<rect x="274.6" y="677.7" width="155.0" height="117.69999999999993" fill="none" stroke="#2a2a2a" stroke-width="0.9"/>
<path d="M351.8,795.4 v-2.0 M351.8,677.7 v2.0 M274.6,683.0 h2.0 M429.6,683.0 h-2.0 M274.6,708.2 h2.0 M429.6,708.2 h-2.0 M274.6,733.7 h2.0 M429.6,733.7 h-2.0 M274.6,759.4 h2.0 M429.6,759.4 h-2.0 M274.6,785.4 h2.0 M429.6,785.4 h-2.0" stroke="#2a2a2a" stroke-width="0.8" fill="none"/>
<text x="232.4" y="665.0" font-size="13" text-anchor="start" fill="#000" font-weight="bold" >g</text>
<text x="271.4" y="687.0" font-size="10.3" text-anchor="end" fill="#1a1a1a" font-weight="normal" >1.004</text>
<text x="271.4" y="712.2" font-size="10.3" text-anchor="end" fill="#1a1a1a" font-weight="normal" >1.003</text>
<text x="271.4" y="737.7" font-size="10.3" text-anchor="end" fill="#1a1a1a" font-weight="normal" >1.002</text>
<text x="271.4" y="763.4" font-size="10.3" text-anchor="end" fill="#1a1a1a" font-weight="normal" >1.001</text>
<text x="271.4" y="789.4" font-size="10.3" text-anchor="end" fill="#1a1a1a" font-weight="normal" >1</text>
<text x="274.6" y="810.4" font-size="10.3" text-anchor="middle" fill="#1a1a1a" font-weight="normal" >0</text>
<text x="351.8" y="810.4" font-size="10.3" text-anchor="middle" fill="#1a1a1a" font-weight="normal" >0.5</text>
<text x="429.6" y="810.4" font-size="10.3" text-anchor="middle" fill="#1a1a1a" font-weight="normal" >1</text>
<g transform="translate(239.5,796.2) rotate(-90)">
<text x="0" y="0" font-size="10.3" fill="#000" textLength="98.7" lengthAdjust="spacingAndGlyphs">Myosin concentration,</text>
<text x="103.0" y="0" font-size="11.6" fill="#1c1c1c" class="m">c</text>
<line x1="108.4" y1="2.0" x2="112.0" y2="-8.4" stroke="#1c1c1c" stroke-width="0.75"/>
<text x="113.0" y="0" font-size="11.6" fill="#1c1c1c" class="m">c</text>
<text x="117.8" y="1.4" font-size="7.8" fill="#1c1c1c" class="r">0</text>
</g>
<g transform="translate(269.7,823.2)">
<text x="0" y="0" font-size="10.2" fill="#000" textLength="137.6" lengthAdjust="spacingAndGlyphs">Coordinate along the channel,</text>
<text x="140.6" y="0" font-size="11.6" fill="#1c1c1c" class="m">x</text>
<line x1="147.5" y1="2.7" x2="151.7" y2="-7.8" stroke="#1c1c1c" stroke-width="0.75"/>
<text x="152.7" y="0" font-size="11.6" fill="#1c1c1c" class="m">L</text>
<text x="159.5" y="1.6" font-size="7.8" fill="#1c1c1c" class="r">0</text>
</g>
<path d="M351.8,677.7 V795.4 M274.6,785.4 H429.6" stroke="#1a1a1a" stroke-width="0.8" stroke-dasharray="4.2 2.7" fill="none"/>
<path d="M274.55,684.55 C275.30,685.21 277.40,686.87 279.02,688.49 C280.64,690.11 282.08,691.65 284.27,694.27 C286.46,696.90 289.53,700.97 292.16,704.26 C294.78,707.54 297.41,710.87 300.04,713.98 C302.67,717.09 305.29,720.07 307.92,722.91 C310.55,725.76 313.18,728.52 315.80,731.06 C318.43,733.60 321.06,735.92 323.69,738.15 C326.31,740.39 328.94,742.53 331.57,744.46 C334.20,746.39 336.82,748.05 339.45,749.71 C342.08,751.38 344.71,753.08 347.33,754.44 C349.96,755.80 352.59,756.94 355.21,757.86 C357.84,758.78 360.69,759.48 363.10,759.96 C365.51,760.44 367.48,760.70 369.67,760.75 C371.86,760.79 373.83,760.66 376.23,760.22 C378.64,759.78 381.49,759.17 384.12,758.12 C386.74,757.07 389.37,755.71 392.00,753.92 C394.63,752.12 397.25,750.06 399.88,747.35 C402.51,744.63 405.14,741.44 407.76,737.63 C410.39,733.82 413.24,729.09 415.65,724.49 C418.05,719.89 420.46,714.42 422.21,710.04 C423.97,705.66 424.93,701.72 426.16,698.22 C427.38,694.71 429.00,690.55 429.57,689.02" fill="none" stroke="#f01010" stroke-width="1.5" stroke-linecap="butt" stroke-linejoin="round" />
<g transform="translate(0,671.5)">
<text x="309.8" y="0" font-size="11.2" fill="#1c1c1c" class="m">t</text>
<text x="316.6" y="1.7" font-size="12.8" fill="#1c1c1c" class="r">=</text>
<text x="327.4" y="0" font-size="10.4" fill="#1c1c1c" class="r">5</text>
<text x="335.2" y="1.5" font-size="11.8" fill="#1c1c1c" class="r">×</text>
<text x="345.2" y="0" font-size="10.4" fill="#1c1c1c" class="r" textLength="9.6" lengthAdjust="spacingAndGlyphs">10</text>
<text x="355.4" y="-3.7" font-size="7.4" fill="#1c1c1c" class="r" textLength="10.2" lengthAdjust="spacingAndGlyphs">−7</text>
<text x="367.0" y="0" font-size="11.2" fill="#1c1c1c" class="m">L</text>
<text x="374.0" y="-3.8" font-size="7.2" fill="#1c1c1c" class="r">2</text>
<text x="374.0" y="2.3" font-size="7.2" fill="#1c1c1c" class="r">0</text>
<line x1="378.7" y1="2.6" x2="383.0" y2="-7.4" stroke="#1c1c1c" stroke-width="0.75"/>
<text x="384.3" y="0" font-size="11.2" fill="#1c1c1c" class="m">D</text>
</g>
<rect x="509.5" y="676.4" width="151.10000000000002" height="120.89999999999998" fill="none" stroke="#555555" stroke-width="0.9"/>
<path d="M560.0,797.3 v-2.0 M560.0,676.4 v2.0 M610.2,797.3 v-2.0 M610.2,676.4 v2.0 M509.5,692.2 h2.0 M660.6,692.2 h-2.0 M509.5,707.4 h2.0 M660.6,707.4 h-2.0 M509.5,722.4 h2.0 M660.6,722.4 h-2.0 M509.5,737.4 h2.0 M660.6,737.4 h-2.0 M509.5,752.3 h2.0 M660.6,752.3 h-2.0 M509.5,767.5 h2.0 M660.6,767.5 h-2.0 M509.5,782.6 h2.0 M660.6,782.6 h-2.0" stroke="#555555" stroke-width="0.8" fill="none"/>
<text x="455" y="664.9" font-size="13" text-anchor="start" fill="#000" font-weight="bold" >h</text>
<text x="506.2" y="696.0" font-size="10.3" text-anchor="end" fill="#1a1a1a" font-weight="normal" >2000</text>
<text x="506.2" y="726.1999999999999" font-size="10.3" text-anchor="end" fill="#1a1a1a" font-weight="normal" >1000</text>
<text x="506.2" y="756.0999999999999" font-size="10.3" text-anchor="end" fill="#1a1a1a" font-weight="normal" >0</text>
<text x="506.2" y="786.4" font-size="10.3" text-anchor="end" fill="#1a1a1a" font-weight="normal" >-1000</text>
<text x="509.5" y="810.4" font-size="10.3" text-anchor="middle" fill="#1a1a1a" font-weight="normal" >0</text>
<text x="560.0" y="810.4" font-size="10.3" text-anchor="middle" fill="#1a1a1a" font-weight="normal" >5</text>
<text x="610.2" y="810.4" font-size="10.3" text-anchor="middle" fill="#1a1a1a" font-weight="normal" >10</text>
<text x="660.6" y="810.4" font-size="10.3" text-anchor="middle" fill="#1a1a1a" font-weight="normal" >15</text>
<g transform="translate(475.3,805.4) rotate(-90)">
<text x="0" y="0" font-size="10.3" fill="#000" textLength="81.0" lengthAdjust="spacingAndGlyphs">Cell-end velocities,</text>
<path transform="translate(85.0,0)" d="M0.1,-2.6 C2.4,-3.8 4.3,-7.2 3.2,-8.0 C2.2,-8.6 1.2,-4.2 1.3,-1.6 C1.4,0.4 3.0,0.2 4.3,-1.6" fill="none" stroke="#1c1c1c" stroke-width="0.7" stroke-linecap="round"/>
<text x="86.6" y="-8.8" font-size="11" fill="#1c1c1c" class="r">.</text>
<text x="92.3" y="2.6" font-size="8.8" fill="#1c1c1c" class="r">±</text>
<line x1="98.6" y1="2.4" x2="102.8" y2="-8.0" stroke="#1c1c1c" stroke-width="0.75"/>
<text x="102.9" y="0" font-size="11.2" fill="#1c1c1c" class="r">(</text>
<text x="107.1" y="0" font-size="11.6" fill="#1c1c1c" class="m">D</text>
<line x1="116.7" y1="2.4" x2="120.9" y2="-8.0" stroke="#1c1c1c" stroke-width="0.75"/>
<text x="122.6" y="0" font-size="11.6" fill="#1c1c1c" class="m">L</text>
<text x="129.0" y="1.6" font-size="7.8" fill="#1c1c1c" class="r">0</text>
<text x="133.4" y="0" font-size="11.2" fill="#1c1c1c" class="r">)</text>
</g>
<g transform="translate(536.3,823.3)">
<text x="0" y="0" font-size="10.2" fill="#000" textLength="24.5" lengthAdjust="spacingAndGlyphs">Time,</text>
<text x="27.8" y="0" font-size="11.6" fill="#1c1c1c" class="m">t</text>
<line x1="31.3" y1="2.7" x2="35.8" y2="-7.8" stroke="#1c1c1c" stroke-width="0.75"/>
<text x="36.9" y="0" font-size="11.2" fill="#1c1c1c" class="r">(</text>
<text x="40.8" y="0" font-size="10.2" fill="#1c1c1c" class="r">10</text>
<text x="51.4" y="-3.8" font-size="7.8" fill="#1c1c1c" class="r" textLength="9.4" lengthAdjust="spacingAndGlyphs">−4</text>
<text x="62.9" y="0" font-size="11.6" fill="#1c1c1c" class="m">L</text>
<text x="70.0" y="-4.2" font-size="7.8" fill="#1c1c1c" class="r">2</text>
<text x="70.0" y="2.4" font-size="7.8" fill="#1c1c1c" class="r">0</text>
<line x1="75.3" y1="2.7" x2="79.6" y2="-7.8" stroke="#1c1c1c" stroke-width="0.75"/>
<text x="80.4" y="0" font-size="11.6" fill="#1c1c1c" class="m">D</text>
<text x="89.2" y="0" font-size="11.2" fill="#1c1c1c" class="r">)</text>
</g>
<path d="M509.5,752.3 H660.6" stroke="#1a1a1a" stroke-width="0.8" stroke-dasharray="4.2 2.7" fill="none"/>
<path d="M509.54,794.12 C509.72,793.02 510.16,789.96 510.60,787.55 C511.03,785.14 511.56,782.29 512.17,779.67 C512.79,777.04 513.49,774.28 514.27,771.78 C515.06,769.29 515.94,766.75 516.90,764.69 C517.87,762.63 518.96,760.97 520.05,759.43 C521.15,757.90 522.24,756.63 523.47,755.49 C524.70,754.35 526.10,753.39 527.41,752.60 C528.73,751.82 529.82,751.33 531.35,750.76 C532.89,750.19 534.64,749.63 536.61,749.19 C538.58,748.75 540.77,748.38 543.18,748.14 C545.58,747.90 548.43,747.87 551.06,747.74 C553.69,747.61 555.44,747.55 558.94,747.35 C562.44,747.15 566.39,746.91 572.08,746.56 C577.77,746.21 585.21,745.68 593.10,745.25 C600.98,744.81 610.61,744.41 619.37,743.93 C628.13,743.45 638.77,742.75 645.65,742.36 C652.52,741.96 658.13,741.70 660.62,741.57" fill="none" stroke="#1476c6" stroke-width="1.4" stroke-linecap="butt" stroke-linejoin="round" />
<path d="M509.54,677.20 C509.72,678.73 510.16,682.89 510.60,686.39 C511.03,689.90 511.56,694.27 512.17,698.22 C512.79,702.16 513.49,706.10 514.27,710.04 C515.06,713.98 516.03,718.58 516.90,721.86 C517.78,725.15 518.57,727.34 519.53,729.74 C520.49,732.15 521.59,734.43 522.68,736.31 C523.78,738.20 524.87,739.73 526.10,741.04 C527.32,742.36 528.51,743.32 530.04,744.20 C531.57,745.07 533.54,745.77 535.29,746.30 C537.05,746.82 538.36,747.13 540.55,747.35 C542.74,747.57 545.37,747.65 548.43,747.61 C551.50,747.57 555.00,747.30 558.94,747.09 C562.88,746.87 566.39,746.65 572.08,746.30 C577.77,745.95 585.21,745.42 593.10,744.98 C600.98,744.55 610.61,744.15 619.37,743.67 C628.13,743.19 638.77,742.49 645.65,742.09 C652.52,741.70 658.13,741.44 660.62,741.31" fill="none" stroke="#76ab2f" stroke-width="1.4" stroke-linecap="butt" stroke-linejoin="round" />
<text x="529.5" y="741.0" font-size="10.2" text-anchor="start" fill="#76ab2f" font-weight="normal" textLength="80.9" lengthAdjust="spacingAndGlyphs">End at low friction</text>
<text x="527.4" y="771.3" font-size="10.2" text-anchor="start" fill="#1476c6" font-weight="normal" textLength="84.9" lengthAdjust="spacingAndGlyphs">End at high friction</text>
</svg></body></html>
